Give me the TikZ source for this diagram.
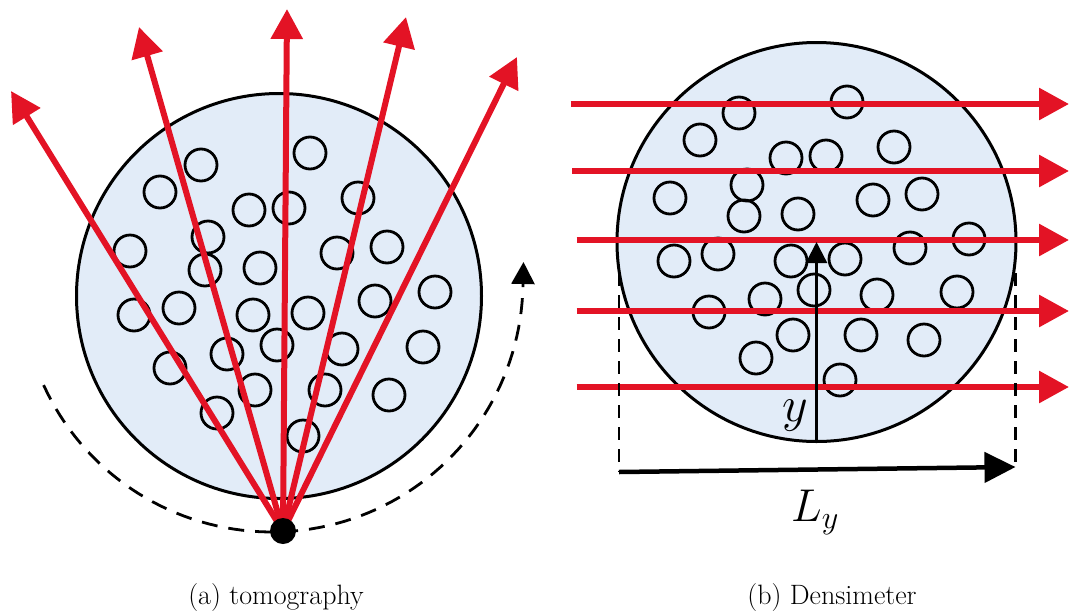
\RequirePackage{fix-cm}
\documentclass[tikz,border=0pt]{standalone}
\usetikzlibrary{arrows.meta}
\definecolor{rayred}{RGB}{227,19,37}
\definecolor{fluid}{RGB}{226,236,248}
\begin{document}
\begin{tikzpicture}[x=1pt,y=-1pt,
  vessel/.style={circle, draw=black, line width=3pt, fill=fluid, inner sep=0pt},
  bubble/.style={circle, draw=black, line width=2.8pt, minimum size=32pt, inner sep=0pt},
  ray/.style={draw=rayred, line width=6pt, -{Triangle[length=30pt,width=31pt]}},
  scanpath/.style={draw=black, line width=2.8pt, dash pattern=on 16pt off 11pt, -{Triangle[length=22pt,width=23pt]}},
  guide/.style={draw=black, line width=2.6pt, dash pattern=on 13pt off 9pt},
  source/.style={circle, fill=black, minimum size=26pt, inner sep=0pt},
  caption/.style={font=\fontsize{28}{34}\selectfont, inner sep=0pt},
]
\useasboundingbox (0,0) rectangle (1069,614);

% ---------- (a) tomography ----------
\node[vessel, minimum size=405pt] (tankA) at (279,296) {};
\foreach \p [count=\i] in {(201,165),(310,153),(160,192),(249,210),(289,208),(358,198),
  (208,237),(130,251),(205,270),(260,268),(337,253),(387,247),(134,315),(179,308),
  (253,315),(308,313),(375,301),(435,292),(277,345),(227,354),(342,349),(423,347),
  (170,368),(255,390),(325,390),(389,395),(217,413),(303,436)}
  \node[bubble] (a\i) at \p {};

\coordinate (src) at (283,531);
\coordinate (t1) at (11,91);
\coordinate (t2) at (139,27);
\coordinate (t3) at (287,9);
\coordinate (t4) at (406,17);
\coordinate (t5) at (517,57);
\coordinate (rotEnd) at (523.5,262);

\draw[scanpath] plot[domain=204.5:359, samples=80] ({272+251*cos(\x)},{281-251*sin(\x)}) -- (rotEnd);

\foreach \t in {t1,t2,t3,t4,t5}
  \draw[ray] (src) -- (\t);
\node[source] (dot) at (src) {};

\node[caption] (capA) at (276,598) {(a) tomography};

% ---------- (b) Densimeter ----------
\node[vessel, minimum size=399pt] (tankB) at (816.5,242) {};
\foreach \p [count=\i] in {(739,113),(847,102),(700,140),(786,158),(826,156),(894,147),
  (747,185),(670,198),(744,216),(798,214),(873,200),(922,194),(969,239),(910,248),
  (674,261),(718,254),(791,261),(845,259),(814,290),(765,299),(877,295),(957,292),
  (709,312),(793,335),(861,335),(924,340),(756,358),(840,380)}
  \node[bubble] (b\i) at \p {};

\foreach \y/\x [count=\i] in {104/570.5,171/572,240/576.5,311/576.5,387/576.5}{
  \coordinate (s\i) at (\x,\y);
  \coordinate (e\i) at (1069,\y);
  \draw[ray] (s\i) -- (e\i);
}

\draw[line width=2.4pt, -{Triangle[length=21pt,width=21pt]}] (tankB.south) -- (tankB.center);
\node[font=\fontsize{50}{56}\selectfont, inner sep=0pt] (ylab) at (795,416) {$y$};

\coordinate (gl1) at (619,273);
\coordinate (gl2) at (619,472);
\coordinate (gr1) at (1015.5,273);
\coordinate (gr2) at (1015.5,467);
\draw[guide] (gl1) -- (gl2);
\draw[guide] (gr1) -- (gr2);
\draw[line width=4.5pt, -{Triangle[length=31pt,width=30pt]}] (gl2) -- (gr2);
\node[font=\fontsize{46}{52}\selectfont, inner sep=0pt] (Llab) at (815,512) {$L_y$};

\node[caption] (capB) at (832,598) {(b) Densimeter};
\end{tikzpicture}
\end{document}
